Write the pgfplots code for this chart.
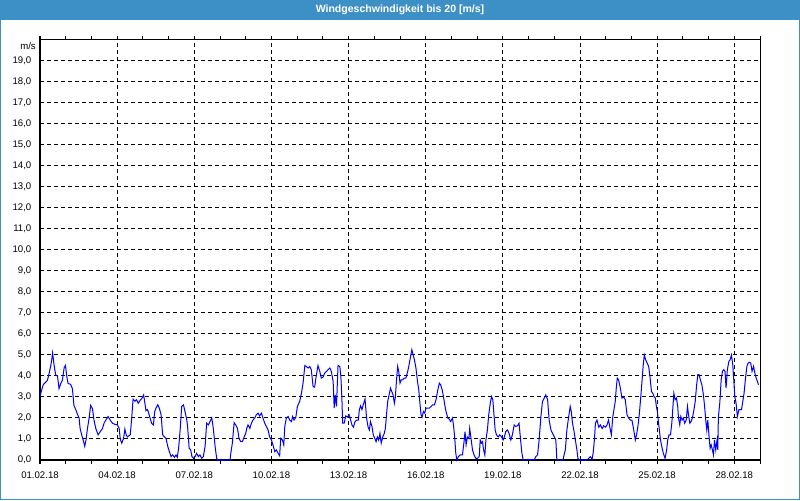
\documentclass[border=0pt]{standalone}
\usepackage{fontspec}
\setmainfont{Liberation Sans}
\usepackage{pgfplots}
\pgfplotsset{compat=1.18}
\definecolor{barblue}{RGB}{61,144,198}

\begin{document}
\begin{tikzpicture}
\useasboundingbox (0,0) rectangle (600pt,375pt);
\fill[white] (0,0) rectangle (600pt,375pt);
\fill[barblue] (0,360pt) rectangle (600pt,375pt);
\draw[barblue, line width=0.75pt] (0.375pt,0.375pt) rectangle (599.625pt,374.625pt);
\node[white, font=\bfseries\fontsize{7.9}{9}\selectfont] at (300pt,367.5pt) {Windgeschwindigkeit bis 20 [m/s]};

\begin{axis}[
    at={(30pt,30pt)}, anchor=south west,
    scale only axis,
    width=540pt, height=315pt,
    xmin=0, xmax=28, ymin=0, ymax=20,
    axis line style={line width=0.75pt},
    xtick={0,3,...,27},
    xticklabels={01.02.18,04.02.18,07.02.18,10.02.18,13.02.18,16.02.18,19.02.18,22.02.18,25.02.18,28.02.18},
    minor xtick={1,2,4,5,7,8,10,11,13,14,16,17,19,20,22,23,25,26,28},
    ytick={0,1,...,19},
    tick align=outside,
    major tick length=3pt, minor tick length=3pt,
    xtick style={black, line width=0.75pt},
    minor tick style={black, line width=0.75pt},
    ytick style={draw=none},
    xmajorgrids, ymajorgrids,
    major grid style={black, line width=0.75pt, dash pattern=on 3pt off 2.25pt},
    /pgf/number format/assume math mode=true,
    yticklabel={\pgfmathprintnumber[fixed,fixed zerofill,precision=1,use comma]{\tick}},
    ticklabel style={font=\fontsize{7.2}{8}\selectfont, black},
    xticklabel style={yshift=-2pt},
    clip=false,
]
\addplot[blue, line width=0.75pt] coordinates {
(0.00,3.0) (0.05,3.27) (0.13,3.6) (0.22,3.7) (0.29,3.8) (0.35,4.1) (0.42,4.5) (0.47,4.9) (0.49,5.1) (0.55,4.5)
(0.61,4.05) (0.68,4.0) (0.74,3.4) (0.81,3.65) (0.87,3.8) (0.94,4.4) (0.99,4.5) (1.04,4.0) (1.09,3.65) (1.19,3.6)
(1.26,3.4) (1.32,2.6) (1.39,2.4) (1.45,2.2) (1.52,2.0) (1.56,1.5) (1.62,1.2) (1.69,0.9) (1.74,0.65) (1.79,0.95)
(1.84,1.45) (1.91,2.0) (1.97,2.6) (2.04,2.45) (2.10,1.9) (2.17,1.5) (2.26,1.2) (2.34,1.35) (2.43,1.5) (2.49,1.75)
(2.56,1.9) (2.65,2.07) (2.73,1.9) (2.82,1.75) (2.91,1.7) (3.01,1.67) (3.08,1.5) (3.12,1.0) (3.18,0.8) (3.25,1.03)
(3.30,1.47) (3.35,1.2) (3.40,1.1) (3.51,1.2) (3.56,1.9) (3.62,2.9) (3.69,2.8) (3.75,2.87) (3.82,2.7) (3.90,2.85)
(3.97,2.95) (4.03,3.1)
(4.08,2.7) (4.12,2.35) (4.18,2.4) (4.21,2.3) (4.28,2.0) (4.34,1.75) (4.41,1.67) (4.46,2.3) (4.51,2.47) (4.58,2.63)
(4.64,2.47) (4.71,2.15) (4.77,1.2) (4.84,1.1) (4.90,1.03) (4.97,0.64) (5.03,0.4) (5.10,0.16) (5.16,0.24) (5.23,0.13)
(5.29,0.24) (5.34,0.13) (5.39,0.56) (5.45,1.43) (5.51,2.55) (5.58,2.63) (5.64,2.3) (5.71,1.9) (5.74,1.6) (5.80,0.56)
(5.86,0.48) (5.91,0.16) (5.97,0.08) (6.03,0.16) (6.09,0.32) (6.16,0.16) (6.22,0.24) (6.29,0.08) (6.35,0.16) (6.42,0.64)
(6.48,1.75) (6.55,1.67) (6.61,1.83) (6.68,2.0) (6.74,1.5) (6.81,0.64) (6.87,0.08) (6.91,0.0) (7.39,0.0) (7.42,0.32)
(7.48,0.8) (7.55,1.78) (7.61,1.67) (7.68,1.5) (7.74,1.03) (7.81,0.87) (7.87,0.87) (7.94,1.1) (8.00,1.27) (8.04,1.5)
(8.09,1.67) (8.16,1.5) (8.22,1.75) (8.28,1.9) (8.35,2.0) (8.41,2.15) (8.48,2.23) (8.54,2.1) (8.61,2.23) (8.67,2.0)
(8.74,1.75) (8.80,1.6) (8.87,1.43) (8.93,1.1) (9.00,0.95) (9.06,0.72) (9.13,0.4) (9.19,0.48) (9.26,0.32) (9.32,0.2)
(9.36,1.03) (9.43,0.95) (9.48,0.72) (9.52,1.6) (9.58,2.0) (9.65,2.07) (9.71,1.9) (9.78,1.83) (9.82,2.07) (9.88,1.9)
(9.95,2.04) (10.01,2.55) (10.10,2.8) (10.17,3.2) (10.23,3.66) (10.30,4.5) (10.36,4.45) (10.43,4.38) (10.49,4.45) (10.55,4.3)
(10.62,3.5) (10.68,3.47) (10.75,4.06) (10.81,4.5) (10.88,4.22) (10.94,3.9) (11.01,3.95) (11.07,4.14) (11.14,4.22) (11.20,4.3)
(11.27,4.38) (11.33,4.22) (11.40,3.74) (11.44,2.47) (11.48,3.1) (11.53,2.55) (11.59,4.5) (11.66,4.45) (11.70,3.98) (11.74,2.95)
(11.77,1.75) (11.83,1.75) (11.89,2.1) (11.96,2.04) (12.02,2.15)
(12.08,1.9) (12.13,1.67) (12.19,1.56) (12.25,1.83) (12.32,1.9) (12.38,1.9) (12.42,2.4) (12.47,2.58) (12.52,2.4) (12.57,2.63)
(12.64,2.9) (12.70,2.0) (12.76,1.56) (12.81,1.43) (12.85,1.83) (12.91,1.6) (12.96,1.2) (13.02,1.03) (13.07,0.87) (13.12,1.1)
(13.17,0.95) (13.22,1.27) (13.27,0.8) (13.33,1.1) (13.39,1.27) (13.43,1.5) (13.47,2.07) (13.52,2.78) (13.59,3.18) (13.63,3.42)
(13.68,3.26) (13.73,3.1) (13.78,2.7) (13.82,3.0) (13.87,3.9) (13.91,4.46) (13.95,4.22) (14.00,3.66) (14.05,3.82) (14.10,3.82)
(14.17,3.9) (14.23,3.9) (14.30,4.22) (14.36,4.58) (14.40,4.86) (14.46,5.25) (14.49,5.1) (14.56,4.78) (14.62,4.38) (14.68,3.74)
(14.73,3.34) (14.78,2.63) (14.82,2.15) (14.86,2.04) (14.91,2.31) (14.96,2.23) (15.01,2.47) (15.08,2.47) (15.14,2.47) (15.21,2.55)
(15.27,2.63) (15.34,2.63) (15.40,2.87) (15.47,3.34) (15.53,3.66) (15.58,3.58) (15.64,3.34) (15.69,3.02) (15.74,2.63) (15.79,2.31)
(15.86,2.0) (15.92,1.94) (15.97,1.83) (16.04,2.0)
(16.08,1.67) (16.13,1.03) (16.17,0.32) (16.21,0.0) (16.27,0.16) (16.34,0.24) (16.43,0.24) (16.49,0.87) (16.53,1.35) (16.57,0.72)
(16.62,1.1) (16.68,1.03) (16.71,1.5) (16.77,0.95) (16.82,0.48) (16.88,0.24) (16.95,0.08) (17.01,0.08) (17.08,0.16) (17.12,0.95)
(17.17,0.8) (17.21,0.87) (17.25,0.48) (17.30,0.24) (17.34,0.95) (17.40,1.43) (17.45,2.15) (17.51,2.7) (17.56,3.02) (17.61,2.87)
(17.66,2.07) (17.70,1.43) (17.75,1.2) (17.82,1.1) (17.88,1.2) (17.95,1.1) (18.01,0.95) (18.06,1.1) (18.11,1.35) (18.18,1.43)
(18.24,1.27) (18.31,0.95) (18.37,1.2) (18.44,1.67) (18.50,1.6) (18.57,1.63) (18.63,1.75) (18.69,0.95) (18.74,0.32) (18.79,0.0)
(18.96,0.03) (19.22,0.0) (19.28,0.16) (19.35,0.24) (19.41,0.95) (19.48,2.07) (19.54,2.78) (19.61,2.95) (19.67,3.1) (19.74,2.87)
(19.80,1.9) (19.87,1.43) (19.93,1.27) (20.00,1.1) (20.06,0.95)
(20.08,0.48) (20.10,0.0) (20.34,0.0) (20.38,0.24) (20.43,0.48) (20.49,1.43) (20.56,2.07) (20.62,2.55) (20.66,2.31) (20.71,1.75)
(20.77,1.35) (20.82,0.95) (20.88,0.48) (20.92,0.08) (20.97,0.0) (21.27,0.0) (21.34,0.08) (21.40,0.16) (21.47,0.03) (21.51,0.32)
(21.56,0.95) (21.60,1.75) (21.66,1.9) (21.73,1.56) (21.79,1.67) (21.86,1.5) (21.92,1.63) (21.99,1.56) (22.05,1.67) (22.11,1.9)
(22.18,1.43) (22.22,1.2) (22.27,2.0) (22.32,2.4) (22.37,2.78) (22.41,3.42) (22.45,3.9) (22.50,3.82) (22.57,3.42) (22.63,2.95)
(22.70,3.0) (22.76,2.87) (22.83,2.15) (22.89,2.0) (22.96,1.9) (23.02,1.9) (23.09,1.43) (23.15,0.95) (23.20,1.2) (23.26,1.67)
(23.31,2.23) (23.36,2.95) (23.41,3.74) (23.46,4.54) (23.50,5.0) (23.55,4.78) (23.61,4.62) (23.67,4.46) (23.72,3.98) (23.78,3.26)
(23.83,3.18) (23.88,3.02) (23.93,2.95) (23.97,2.55) (24.01,2.3) (24.05,1.8) (24.08,1.5)
(24.13,0.95) (24.18,0.64) (24.24,0.32) (24.31,0.08) (24.37,0.48) (24.41,0.95) (24.46,1.2) (24.52,1.2) (24.57,1.75) (24.61,2.47)
(24.65,3.18) (24.70,2.87) (24.75,2.95) (24.80,2.55) (24.83,2.0) (24.88,1.67) (24.92,2.07) (24.97,1.9) (25.02,2.0) (25.07,1.75)
(25.13,1.9) (25.18,2.55) (25.22,2.15) (25.27,1.75) (25.32,1.83) (25.37,2.0) (25.42,2.31) (25.48,2.78) (25.53,3.5) (25.58,4.06)
(25.63,4.06) (25.68,3.82) (25.74,3.58) (25.79,3.18) (25.84,2.63) (25.89,1.9) (25.93,1.43) (25.97,1.9) (26.02,1.1) (26.06,0.56)
(26.10,0.72) (26.15,0.48) (26.19,0.24) (26.23,0.95) (26.28,0.48) (26.33,0.95) (26.36,0.48) (26.38,2.0) (26.44,2.78) (26.49,3.82)
(26.54,4.22) (26.59,4.3) (26.64,4.22) (26.68,3.42) (26.73,4.3) (26.79,4.7) (26.84,4.78) (26.89,5.0) (26.94,4.54) (26.98,3.82)
(27.02,3.02) (27.07,2.7) (27.12,2.07) (27.18,2.4) (27.23,2.4) (27.28,2.4) (27.33,2.78) (27.38,3.18) (27.43,3.82) (27.49,4.46)
(27.54,4.62) (27.59,4.65) (27.64,4.62) (27.69,4.22) (27.75,4.46) (27.80,4.14) (27.85,3.9) (27.90,3.74) (27.94,3.58)
};
\node[anchor=east, font=\fontsize{7.2}{8}\selectfont, inner sep=0pt] at ([xshift=-3pt, yshift=-4.5pt]rel axis cs:0,1) {m/s};
\end{axis}
\end{tikzpicture}
\end{document}
